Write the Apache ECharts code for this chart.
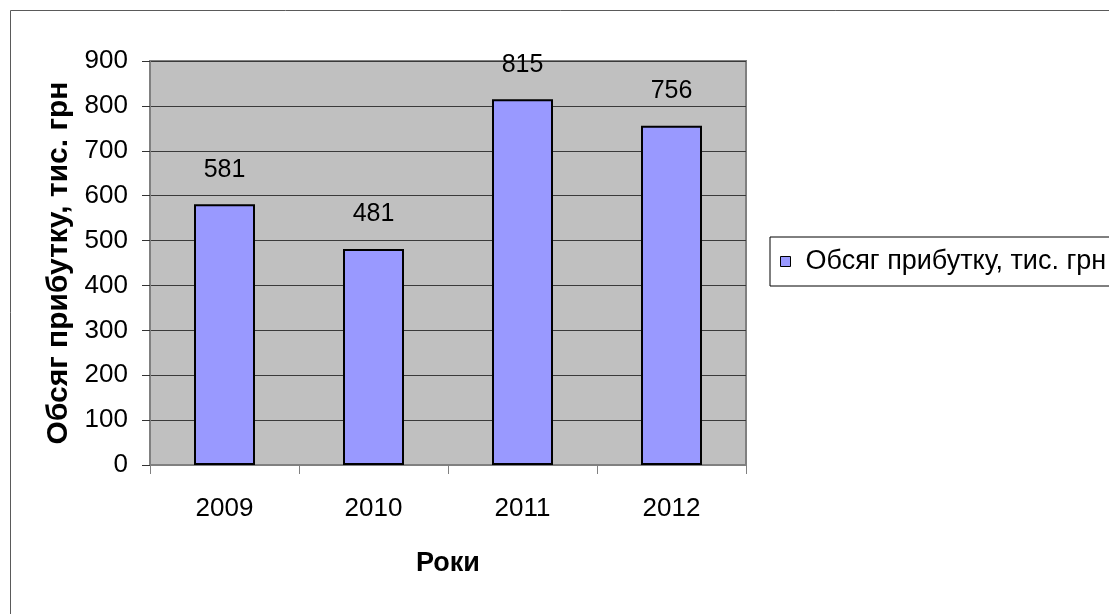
<!DOCTYPE html>
<html>
<head>
<meta charset="utf-8">
<script src="https://cdn.jsdelivr.net/npm/echarts@6/dist/echarts.min.js"></script>
<style>
html,body{margin:0;padding:0;background:#fff;}
#chart{width:1109px;height:614px;}
</style>
</head>
<body>
<div id="chart"></div>
<script>
const categories = ['2009', '2010', '2011', '2012'];
const profitValues = [581, 481, 815, 756];
const seriesName = 'Обсяг прибутку, тис. грн';
const xAxisName = 'Роки';
const yAxisName = 'Обсяг прибутку, тис. грн';

const FONT = '"Liberation Sans", Arial, sans-serif';
const chart = echarts.init(document.getElementById('chart'), null, {renderer: 'canvas'});
chart.setOption({
  animation: false,
  backgroundColor: '#fff',
  graphic: [{
    type: 'rect',
    shape: {x: 10.5, y: 10.5, width: 1300, height: 800},
    style: {fill: 'none', stroke: '#5a5a5a', lineWidth: 1},
    silent: true
  }],
  grid: {
    left: 150, top: 61, right: 363, bottom: 149,
    show: true, backgroundColor: '#C0C0C0', borderColor: '#808080', borderWidth: 2
  },
  legend: {
    left: 770, top: 237,
    padding: [11, 40, 11, 10],
    borderColor: '#000', borderWidth: 1,
    itemWidth: 10, itemHeight: 10,
    icon: 'rect',
    itemStyle: {borderColor: '#000', borderWidth: 1},
    textStyle: {fontFamily: FONT, fontSize: 27, color: '#000', padding: [0, 0, 0, 10]},
    data: [seriesName]
  },
  xAxis: {
    type: 'category',
    data: categories,
    name: xAxisName,
    nameLocation: 'middle',
    nameGap: 85,
    nameTextStyle: {fontFamily: FONT, fontSize: 27, fontWeight: 'bold', color: '#000'},
    axisLine: {show: true, lineStyle: {color: '#808080', width: 2}},
    axisTick: {show: true, alignWithLabel: false, length: 9, lineStyle: {color: '#808080', width: 1}},
    axisLabel: {fontFamily: FONT, fontSize: 26, color: '#000', margin: 31},
    splitLine: {show: false}
  },
  yAxis: {
    type: 'value',
    min: 0, max: 900, interval: 100,
    name: yAxisName,
    nameLocation: 'middle',
    nameGap: 74,
    nameTextStyle: {fontFamily: FONT, fontSize: 30, fontWeight: 'bold', color: '#000'},
    axisLine: {show: true, lineStyle: {color: '#808080', width: 2}},
    axisTick: {show: true, length: 8, lineStyle: {color: '#333', width: 1}},
    axisLabel: {fontFamily: FONT, fontSize: 26, color: '#000', margin: 22},
    splitLine: {show: true, lineStyle: {color: '#3a3a3a', width: 1}}
  },
  series: [{
    name: seriesName,
    type: 'bar',
    data: profitValues,
    barWidth: 61,
    itemStyle: {color: '#9999FF', borderColor: '#000', borderWidth: 2},
    label: {show: true, position: 'top', distance: 22, fontFamily: FONT, fontSize: 25, color: '#000'}
  }]
});
</script>
</body>
</html>
